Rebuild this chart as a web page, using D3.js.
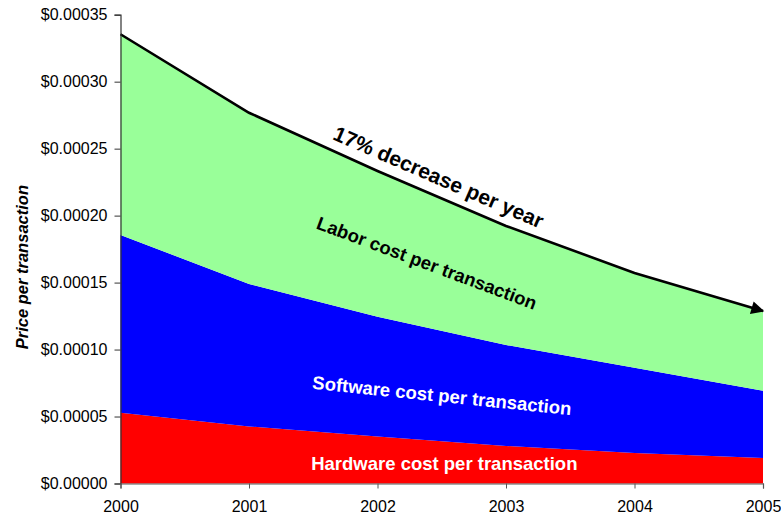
<!DOCTYPE html>
<html>
<head>
<meta charset="utf-8">
<script src="https://cdn.jsdelivr.net/npm/d3@7"></script>
<style>
  html, body { margin: 0; padding: 0; background: #fff; }
  svg { display: block; font-family: Arial, "Liberation Sans", sans-serif; }
</style>
</head>
<body>
<svg id="chart" width="781" height="518"></svg>
<script>
// ---- data ----
const years = [2000, 2001, 2002, 2003, 2004, 2005];
const hardware = [0.0000529, 0.0000426, 0.0000351, 0.0000280, 0.0000228, 0.0000190];
const software = [0.0001326, 0.0001064, 0.0000894, 0.0000754, 0.0000637, 0.0000503];
const labor    = [0.0001499, 0.0001278, 0.0001088, 0.0000889, 0.0000707, 0.0000595];
const yTicks = [0, 0.00005, 0.00010, 0.00015, 0.00020, 0.00025, 0.00030, 0.00035];
const seriesNames = ["hardware", "software", "labor"];
const seriesColors = ["#ff0000", "#0000ff", "#99ff99"];
const seriesLabels = ["Hardware cost per transaction", "Software cost per transaction", "Labor cost per transaction"];
const trendLabel = "17% decrease per year";
const yTitle = "Price per transaction";

// ---- layout ----
const W = 781, H = 518;
const m = { left: 120.5, right: 18, top: 14.7, bottom: 34.5 };
const svg = d3.select("#chart");

const x = d3.scaleLinear().domain([2000, 2005]).range([m.left, W - m.right]);
const y = d3.scaleLinear().domain([0, 0.00035]).range([H - m.bottom, m.top]);

const table = years.map((yr, i) => ({ year: yr, hardware: hardware[i], software: software[i], labor: labor[i] }));
const stacked = d3.stack().keys(seriesNames)(table);

const area = d3.area()
  .x(d => x(d.data.year))
  .y0(d => y(d[0]))
  .y1(d => y(d[1]));

svg.append("g").selectAll("path")
  .data(stacked)
  .join("path")
  .attr("d", area)
  .attr("fill", (d, i) => seriesColors[i]);

// ---- trend arrow on total ----
const defs = svg.append("defs");
defs.append("marker")
  .attr("id", "arrow")
  .attr("viewBox", "0 0 10 10")
  .attr("refX", 9).attr("refY", 5)
  .attr("markerWidth", 6).attr("markerHeight", 5)
  .attr("markerUnits", "strokeWidth")
  .attr("orient", "auto")
  .append("path").attr("d", "M0,0 L10,5 L0,10 Z").attr("fill", "#000");

const totals = table.map(d => ({ year: d.year, total: d.hardware + d.software + d.labor }));
const line = d3.line().x(d => x(d.year)).y(d => y(d.total));
svg.append("path")
  .datum(totals)
  .attr("d", line)
  .attr("fill", "none")
  .attr("stroke", "#000")
  .attr("stroke-width", 2.6)
  .attr("marker-end", "url(#arrow)");

// ---- axes ----
const yAxis = d3.axisLeft(y).tickValues(yTicks).tickSize(6).tickPadding(7)
  .tickFormat(d => "$" + d.toFixed(5));
const gy = svg.append("g").attr("transform", `translate(${m.left},0)`).call(yAxis);
gy.select(".domain").attr("stroke", "#333").attr("stroke-width", 1.2);
gy.selectAll(".tick line").attr("stroke", "#333");
gy.selectAll("text").attr("font-size", 16).attr("fill", "#000")
  .attr("font-family", "Arial, 'Liberation Sans', sans-serif");

const xAxis = d3.axisBottom(x).tickValues(years).tickSize(5).tickPadding(12).tickFormat(d3.format("d"));
const gx = svg.append("g").attr("transform", `translate(0,${H - m.bottom})`).call(xAxis);
gx.select(".domain").attr("stroke", "#555").attr("stroke-width", 1.2);
gx.selectAll(".tick line").attr("stroke", "#555");
gx.selectAll("text").attr("font-size", 16).attr("fill", "#000")
  .attr("font-family", "Arial, 'Liberation Sans', sans-serif");

// ---- y title ----
svg.append("text")
  .attr("transform", `translate(28,${(y(0.00035) + y(0)) / 2 + 18}) rotate(-90)`)
  .attr("text-anchor", "middle")
  .attr("font-size", 16.5)
  .attr("font-weight", "bold")
  .attr("font-style", "italic")
  .text(yTitle);

// ---- annotations ----
function label(txt, cx, cy, angle, size, color) {
  svg.append("text")
    .attr("transform", `translate(${cx},${cy}) rotate(${angle})`)
    .attr("text-anchor", "middle")
    .attr("dominant-baseline", "middle")
    .attr("font-size", size)
    .attr("font-weight", "bold")
    .attr("fill", color)
    .text(txt);
}
label(trendLabel, x(2002.47), y(0.0002275), 23.3, 21, "#000");
label(seriesLabels[2], x(2002.38), y(0.0001635), 20.5, 18.5, "#000");
label(seriesLabels[1], x(2002.5), y(0.0000645), 5.8, 18.5, "#fff");
label(seriesLabels[0], x(2002.52), y(0.0000138), 0, 18.5, "#fff");
</script>
</body>
</html>
